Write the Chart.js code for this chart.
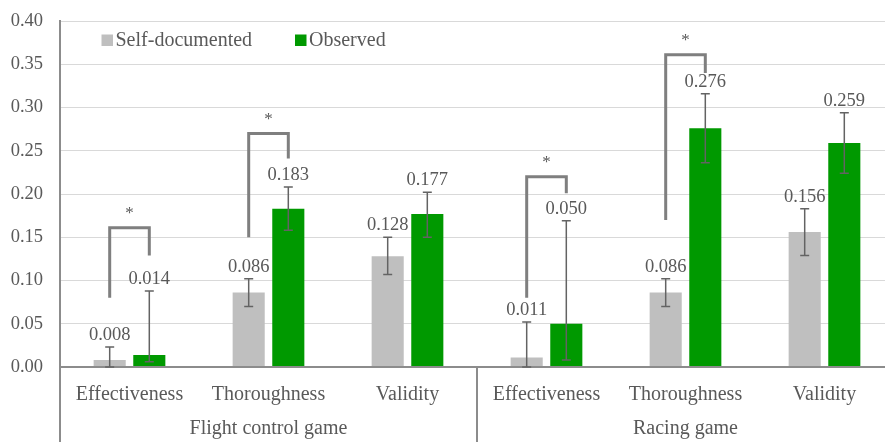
<!DOCTYPE html>
<html>
<head>
<meta charset="utf-8">
<script src="https://cdn.jsdelivr.net/npm/chart.js@4"></script>
<style>
  html, body { margin: 0; padding: 0; background: #fff; overflow: hidden; }
  #chart { display: block; }
</style>
</head>
<body>
<canvas id="chart" width="900" height="442"></canvas>
<script>
// Category and group labels
const categories = ['Effectiveness', 'Thoroughness', 'Validity', 'Effectiveness', 'Thoroughness', 'Validity'];
const groups = ['Flight control game', 'Racing game'];
const groupSize = 3;

// Mean scores
const selfDocumented = [0.008, 0.086, 0.128, 0.011, 0.086, 0.156];
const observed = [0.014, 0.183, 0.177, 0.050, 0.276, 0.259];

// Error bar ends (lower / upper)
const selfLow = [0.000, 0.070, 0.107, 0.000, 0.070, 0.129];
const selfHigh = [0.023, 0.102, 0.150, 0.052, 0.102, 0.183];
const observedLow = [0.006, 0.158, 0.150, 0.008, 0.236, 0.224];
const observedHigh = [0.088, 0.208, 0.202, 0.169, 0.316, 0.294];

// Significance brackets: category, left leg end, right leg end, top
const brackets = [
    { cat: 0, left: 0.080, right: 0.129, top: 0.161 },
    { cat: 1, left: 0.150, right: 0.241, top: 0.270 },
    { cat: 3, left: 0.080, right: 0.201, top: 0.220 },
    { cat: 4, left: 0.170, right: 0.340, top: 0.361 }
];

// Y axis ticks
const yTicks = [0, 0.05, 0.10, 0.15, 0.20, 0.25, 0.30, 0.35, 0.40];

const FONT = "'Liberation Serif', serif";
const TEXT = '#595959';
const AXIS = '#8c8c8c';

const errorLow = [selfLow, observedLow];
const errorHigh = [selfHigh, observedHigh];

// Axis lines, group labels, error bars, brackets, value labels and legend
const overlay = {
    id: 'overlay',
    afterDatasetsDraw(chart) {
        const { ctx, chartArea: a, scales: { x, y } } = chart;
        const zeroY = y.getPixelForValue(0);
        ctx.save();

        // axes and group separators
        ctx.strokeStyle = AXIS;
        ctx.lineWidth = 2;
        ctx.beginPath();
        ctx.moveTo(a.left, a.top - 1);
        ctx.lineTo(a.left, chart.height);
        ctx.moveTo(a.left, zeroY);
        ctx.lineTo(a.right, zeroY);
        for (let g = 1; g <= groups.length; g++) {
            const last = g * groupSize - 1;
            const step = x.getPixelForValue(1) - x.getPixelForValue(0);
            const sx = x.getPixelForValue(last) + step / 2;
            ctx.moveTo(sx, zeroY);
            ctx.lineTo(sx, chart.height);
        }
        ctx.stroke();

        // group labels
        ctx.fillStyle = TEXT;
        ctx.font = '20px ' + FONT;
        ctx.textAlign = 'center';
        ctx.textBaseline = 'middle';
        groups.forEach((g, gi) => {
            const first = x.getPixelForValue(gi * groupSize);
            const last = x.getPixelForValue(gi * groupSize + groupSize - 1);
            ctx.fillText(g, (first + last) / 2, 429);
        });

        // error bars
        ctx.strokeStyle = '#636363';
        ctx.lineWidth = 1.5;
        chart.data.datasets.forEach((ds, di) => {
            const meta = chart.getDatasetMeta(di);
            meta.data.forEach((bar, i) => {
                const yl = y.getPixelForValue(errorLow[di][i]);
                const yh = y.getPixelForValue(errorHigh[di][i]);
                ctx.beginPath();
                ctx.moveTo(bar.x, yl);
                ctx.lineTo(bar.x, yh);
                ctx.moveTo(bar.x - 4.5, yh);
                ctx.lineTo(bar.x + 4.5, yh);
                ctx.moveTo(bar.x - 4.5, yl);
                ctx.lineTo(bar.x + 4.5, yl);
                ctx.stroke();
            });
        });

        // value labels
        ctx.fillStyle = TEXT;
        ctx.font = '18.5px ' + FONT;
        chart.data.datasets.forEach((ds, di) => {
            const meta = chart.getDatasetMeta(di);
            meta.data.forEach((bar, i) => {
                const yh = y.getPixelForValue(errorHigh[di][i]);
                ctx.fillText(ds.data[i].toFixed(3), bar.x, yh - 12);
            });
        });

        // significance brackets
        const m0 = chart.getDatasetMeta(0);
        const m1 = chart.getDatasetMeta(1);
        ctx.strokeStyle = '#7f7f7f';
        ctx.lineWidth = 3;
        ctx.lineJoin = 'miter';
        ctx.font = '17px ' + FONT;
        brackets.forEach(b => {
            const xl = m0.data[b.cat].x;
            const xr = m1.data[b.cat].x;
            const yt = y.getPixelForValue(b.top);
            ctx.beginPath();
            ctx.moveTo(xl, y.getPixelForValue(b.left));
            ctx.lineTo(xl, yt);
            ctx.lineTo(xr, yt);
            ctx.lineTo(xr, y.getPixelForValue(b.right));
            ctx.stroke();
            ctx.fillText('*', (xl + xr) / 2, yt - 14);
        });

        // legend
        ctx.font = '20px ' + FONT;
        ctx.textAlign = 'left';
        let lx = 101.5;
        chart.data.datasets.forEach(ds => {
            ctx.fillStyle = ds.backgroundColor;
            ctx.fillRect(lx, 34.5, 11.5, 11.5);
            ctx.fillStyle = TEXT;
            ctx.fillText(ds.label, lx + 14, 41);
            lx += 193.5;
        });

        ctx.restore();
    }
};

new Chart(document.getElementById('chart'), {
    type: 'bar',
    data: {
        labels: categories,
        datasets: [
            {
                label: 'Self-documented',
                data: selfDocumented,
                backgroundColor: '#bfbfbf',
                barPercentage: 0.81,
                categoryPercentage: 0.57
            },
            {
                label: 'Observed',
                data: observed,
                backgroundColor: '#009900',
                barPercentage: 0.81,
                categoryPercentage: 0.57
            }
        ]
    },
    options: {
        responsive: false,
        animation: false,
        layout: { autoPadding: false, padding: { top: 21, right: 6, bottom: 0, left: 0 } },
        plugins: {
            legend: { display: false },
            tooltip: { enabled: false }
        },
        scales: {
            x: {
                grid: { display: false, drawTicks: false },
                border: { display: false },
                ticks: {
                    color: TEXT,
                    font: { family: FONT, size: 20 },
                    padding: 16,
                    autoSkip: false,
                    maxRotation: 0
                },
                afterFit(scale) { scale.height = 75; }
            },
            y: {
                min: 0,
                max: 0.4,
                afterBuildTicks(scale) {
                    scale.ticks = yTicks.map(v => ({ value: v }));
                },
                grid: { color: '#d9d9d9', lineWidth: 1, drawTicks: false },
                border: { display: false },
                ticks: {
                    color: TEXT,
                    font: { family: FONT, size: 18.5 },
                    padding: 17,
                    callback: v => v.toFixed(2)
                },
                afterFit(scale) {
                    scale.width = 60;
                    scale.paddingTop = 0;
                    scale.paddingBottom = 0;
                }
            }
        }
    },
    plugins: [overlay]
});
</script>
</body>
</html>
